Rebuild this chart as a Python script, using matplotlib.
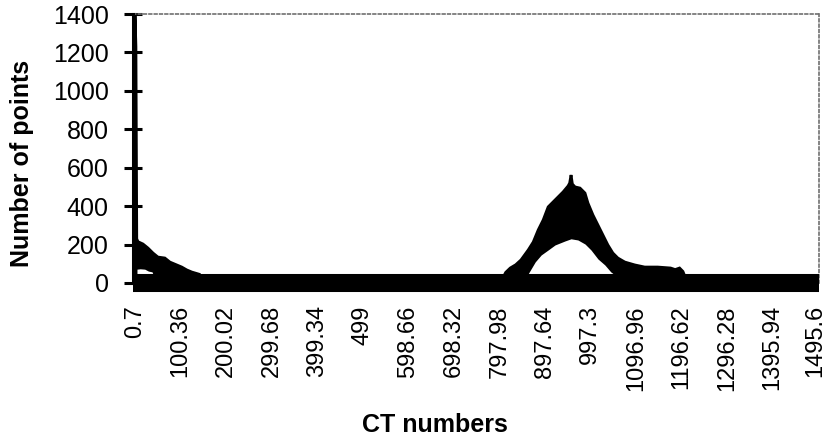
import matplotlib

matplotlib.use("Agg")
import matplotlib.pyplot as plt
import matplotlib.transforms as mtransforms

plt.rcParams["font.family"] = ["Liberation Sans", "DejaVu Sans"]

# histogram of CT numbers, outline
# left blob (air / low CT numbers) incl. the spike at the first bin
left_ct = [0.7, 0.7, 2.7, 4.5, 7.2, 18.1, 29.0, 40.0, 50.8, 66.0, 77.0, 92.0, 103.0, 114.0, 125.0, 142.0, 153.0]
left_hi = [0, 1400, 1230, 230, 215, 203, 182, 156, 135, 130, 109, 94, 83, 68, 57, 45, 0]
left_lo_ct = [5.0, 12.0, 22.0, 30.0, 38.0, 41.0, 45.0, 52.0, 57.0]
left_lo = [72, 74, 72, 62, 58, 40, 48, 48, 40]

# tissue peak
peak_ct = [800.0, 812.0, 822.0, 834.0, 845.5, 861.4, 872.3, 883.2, 894.1, 905.0, 915.9,
           926.8, 937.7, 948.6, 952.0, 955.1, 958.0, 963.8, 974.7, 985.6, 992.1, 1003.0,
           1013.9, 1024.8, 1035.7, 1046.6, 1057.5, 1072.8, 1094.6, 1116.3, 1144.7, 1173.0,
           1183.0, 1192.6, 1200.0, 1210.0]
peak_hi = [0, 55, 78, 95, 120, 172, 213, 276, 328, 396, 422,
           448, 474, 505, 520, 562, 515, 500, 494, 468, 416, 354,
           302, 250, 198, 156, 130, 109, 94, 83, 83, 78,
           70, 78, 60, 0]
peak_lo_ct = [850.0, 861.0, 876.7, 889.7, 905.0, 920.0, 942.0, 955.0, 970.0, 985.6, 998.7,
              1014.0, 1029.0, 1042.0, 1052.0]
peak_lo = [40, 47, 110, 146, 172, 198, 219, 230, 224, 203, 172, 125, 94, 58, 40]

tick_vals = [0.7, 100.36, 200.02, 299.68, 399.34, 499.0, 598.66, 698.32, 797.98,
             897.64, 997.3, 1096.96, 1196.62, 1296.28, 1395.94, 1495.6]
tick_labels = ["0.7", "100.36", "200.02", "299.68", "399.34", "499", "598.66", "698.32",
               "797.98", "897.64", "997.3", "1096.96", "1196.62", "1296.28", "1395.94", "1495.6"]
y_ticks = [0, 200, 400, 600, 800, 1000, 1200, 1400]

fig = plt.figure(figsize=(8.28, 4.38), dpi=100)
ax = fig.add_axes([133 / 828, 1 - 283 / 438, 686 / 828, 269 / 438])

ink = "black"
for ct, hi in ((left_ct, left_hi), (peak_ct, peak_hi)):
    ax.fill(ct, hi, color=ink, lw=2.0, zorder=2, joinstyle="miter")
# the hollow under the noisy envelope
for ct, lo in ((left_lo_ct, left_lo), (peak_lo_ct, peak_lo)):
    ax.fill_between(ct, 0, lo, color="white", lw=0, zorder=3)

ax.set_xlim(-3.7, 1497.8)
ax.set_ylim(0, 1400)

# heavy baseline, dotted frame top/right
ax.spines["bottom"].set_linewidth(13)
ax.spines["bottom"].set_capstyle("butt")
ax.spines["bottom"].set_zorder(5)
ax.spines["left"].set_linewidth(2.2)
ax.spines["left"].set_zorder(5)
for side in ("top", "right"):
    ax.spines[side].set_linestyle((0, (1.6, 1.6)))
    ax.spines[side].set_linewidth(1.2)
    ax.spines[side].set_color("#707070")

ax.set_yticks(y_ticks)
ax.set_yticklabels([str(v) for v in y_ticks])
ax.tick_params(axis="y", direction="inout", length=13, width=2.2, pad=11, labelsize=18)
ax.set_xticks(tick_vals)
xlabels = ax.set_xticklabels(tick_labels, rotation=90, va="top", ha="center")
ax.tick_params(axis="x", length=0, pad=16, labelsize=17)
# keep the last label inside the canvas
xlabels[-1].set_transform(xlabels[-1].get_transform()
                          + mtransforms.ScaledTranslation(-3 / 100, 0, fig.dpi_scale_trans))

ax.set_xlabel("CT numbers", fontsize=18, fontweight="bold")
ax.xaxis.set_label_coords((435 - 133) / 686, (283 - 425) / 269)
ax.set_ylabel("Number of points", fontsize=18, fontweight="bold")
ax.yaxis.set_label_coords((22 - 133) / 686, (283 - 163) / 269)
ax.xaxis.label.set_va("center")
ax.yaxis.label.set_va("center")

fig.savefig("out.png", dpi=100)
